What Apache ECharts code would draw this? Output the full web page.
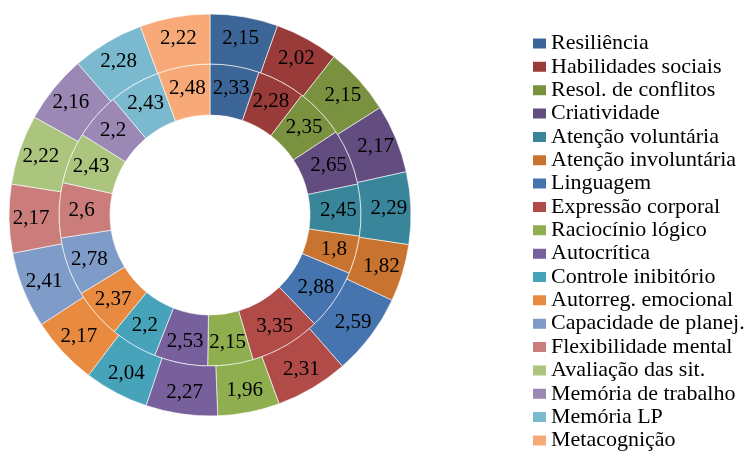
<!DOCTYPE html>
<html>
<head>
<meta charset="utf-8">
<script src="https://cdn.jsdelivr.net/npm/echarts@6/dist/echarts.min.js"></script>
<style>
	html, body { margin: 0; padding: 0; background: #fff; }
	#chart { width: 754px; height: 451px; }
</style>
</head>
<body>
<div id="chart"></div>
<script>
// categorias (legenda)
var categorias = [
	"Resiliência", "Habilidades sociais", "Resol. de conflitos",
	"Criatividade", "Atenção voluntária", "Atenção involuntária",
	"Linguagem", "Expressão corporal", "Raciocínio lógico",
	"Autocrítica", "Controle inibitório", "Autorreg. emocional",
	"Capacidade de planej.", "Flexibilidade mental", "Avaliação das sit.",
	"Memória de trabalho", "Memória LP", "Metacognição"
];
// anel interno
var valores_interno = [
	2.33, 2.28, 2.35, 2.65, 2.45, 1.8, 2.88, 3.35, 2.15,
	2.53, 2.2, 2.37, 2.78, 2.6, 2.43, 2.2, 2.43, 2.48
];
// anel externo
var valores_externo = [
	2.15, 2.02, 2.15, 2.17, 2.29, 1.82, 2.59, 2.31, 1.96,
	2.27, 2.04, 2.17, 2.41, 2.17, 2.22, 2.16, 2.28, 2.22
];
var cores = [
	"#3c6697", "#983b39", "#7a923f", "#634c7f", "#39869a", "#c8732f",
	"#4674ae", "#b14b48", "#8fae50", "#77609b", "#46a3ba", "#e88a3f",
	"#7f9bc8", "#cb7d7b", "#abc57f", "#9b88b5", "#7ab9ce", "#f7aa78"
];

function montar_dados(valores) {
	return valores.map(function (v, i) {
		return { name: categorias[i], value: v, itemStyle: { color: cores[i] } };
	});
}

var fonte = "'Liberation Serif', 'Times New Roman', serif";
var rotulo = {
	show: true,
	position: "inside",
	fontFamily: fonte,
	fontSize: 21,
	color: "#000",
	formatter: function (p) {
		return String(p.value).replace(".", ",");
	}
};

var grafico = echarts.init(document.getElementById("chart"));
grafico.setOption({
	animation: false,
	legend: {
		orient: "vertical",
		left: 526,
		top: 27.5,
		height: 440,
		icon: "rect",
		itemWidth: 15,
		itemHeight: 12,
		itemGap: 1.35,
		selectedMode: false,
		textStyle: {
			fontFamily: fonte, fontSize: 22,
			color: "#000", padding: [0, 0, 0, -1]
		},
		data: categorias
	},
	series: [
		{
			type: "pie",
			center: [210, 215],
			radius: [100, 151],
			startAngle: 90,
			clockwise: true,
			avoidLabelOverlap: false,
			itemStyle: { borderColor: "#fff", borderWidth: 0.6 },
			label: rotulo,
			labelLine: { show: false },
			emphasis: { disabled: true },
			data: montar_dados(valores_interno)
		},
		{
			type: "pie",
			center: [210, 215],
			radius: [151, 201],
			startAngle: 90,
			clockwise: true,
			avoidLabelOverlap: false,
			itemStyle: { borderColor: "#fff", borderWidth: 0.6 },
			label: rotulo,
			labelLine: { show: false },
			emphasis: { disabled: true },
			data: montar_dados(valores_externo)
		}
	]
});
window.addEventListener("resize", grafico.resize);
</script>
</body>
</html>
